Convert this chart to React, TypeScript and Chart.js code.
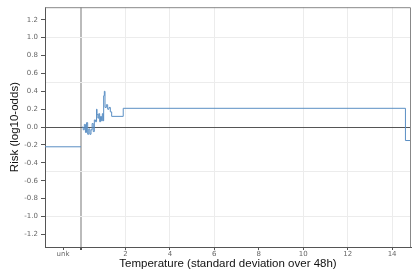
import React, { useEffect, useRef } from "react";
import { Chart, registerables } from "chart.js";

Chart.register(...registerables);

// Bin start edges (temperature, std-dev over 48h) and the risk held from each edge
const tempEdges = [
  0.05, 0.1, 0.15, 0.2, 0.25, 0.3, 0.35, 0.4, 0.45, 0.5, 0.55, 0.6, 0.65, 0.7,
  0.72, 0.76, 0.8, 0.84, 0.88, 0.92, 0.96, 1.0, 1.02, 1.05, 1.08, 1.14, 1.2,
  1.26, 1.32, 1.38, 1.9, 14.6, 14.85,
];
const riskValues = [
  0.0, -0.03, 0.03, -0.06, 0.05, -0.08, -0.02, -0.08, -0.03, 0.04, -0.05, 0.08,
  0.06, 0.2, 0.14, 0.1, 0.15, 0.06, 0.12, 0.07, 0.15, 0.07, 0.35, 0.4, 0.22,
  0.25, 0.2, 0.22, 0.17, 0.12, 0.21, -0.15, -0.15,
];
// Risk for the "unknown" bin
const unkRisk = -0.22;

const xMin = -1.62;
const xMax = 14.85;
const unkTickPos = -0.81;
const xTickValues = [unkTickPos, 0, 2, 4, 6, 8, 10, 12, 14];
const yTickValues = [
  -1.2, -1.0, -0.8, -0.6, -0.5, -0.4, -0.2, 0.0, 0.2, 0.4, 0.5, 0.6, 0.8, 1.0, 1.2,
];
const yMin = -1.34;
const yMax = 1.34;

const LINE = "#5b8fc4";

export default function App() {
  const ref = useRef<HTMLCanvasElement | null>(null);

  useEffect(() => {
    if (!ref.current) return;
    const mainData = tempEdges.map((x, i) => ({ x, y: riskValues[i] }));
    const unkData = [
      { x: xMin, y: unkRisk },
      { x: 0, y: unkRisk },
    ];

    const borderPlugin = {
      id: "frame",
      afterDraw(chart: any) {
        const { ctx, chartArea: a } = chart;
        ctx.save();
        ctx.strokeStyle = "#888";
        ctx.lineWidth = 1;
        ctx.beginPath();
        ctx.moveTo(a.left, a.top + 0.5);
        ctx.lineTo(a.right - 0.5, a.top + 0.5);
        ctx.lineTo(a.right - 0.5, a.bottom);
        ctx.stroke();
        ctx.restore();
      },
    };

    const chart = new Chart(ref.current, {
      type: "line",
      data: {
        datasets: [
          {
            data: unkData,
            borderColor: LINE,
            borderWidth: 1,
            pointRadius: 0,
            fill: false,
          },
          {
            data: mainData,
            borderColor: LINE,
            borderWidth: 1,
            pointRadius: 0,
            stepped: "before",
            fill: false,
          },
        ],
      },
      options: {
        animation: false,
        responsive: false,
        events: [],
        layout: { padding: { top: 3, right: 1, left: 0, bottom: 0 } },
        plugins: { legend: { display: false }, tooltip: { enabled: false } },
        scales: {
          x: {
            type: "linear",
            min: xMin,
            max: xMax,
            afterBuildTicks(scale: any) {
              scale.ticks = xTickValues.map((v) => ({ value: v }));
            },
            afterFit(scale: any) {
              scale.height = 30;
            },
            border: { color: "#555", width: 1 },
            grid: {
              color: (c: any) => {
                const v = c.tick ? c.tick.value : null;
                if (v === 0) return "#bbb";
                if (v === unkTickPos || v === 8) return "rgba(0,0,0,0)";
                return "#ececec";
              },
              lineWidth: (c: any) => (c.tick && c.tick.value === 0 ? 2 : 1),
              tickColor: "#555",
              tickLength: 3,
            },
            ticks: {
              autoSkip: false,
              maxRotation: 0,
              padding: 0,
              color: "#666",
              font: { family: "DejaVu Sans", size: 7 },
              callback: (v: any) => {
                const n = Number(v);
                if (n === unkTickPos) return "unk";
                if (n === 0) return "";
                return String(n);
              },
            },
            title: {
              display: true,
              text: "Temperature (standard deviation over 48h)",
              color: "#111",
              font: { family: "Liberation Sans", size: 11.5 },
              padding: { top: 0, bottom: 6 },
            },
          },
          y: {
            type: "linear",
            min: yMin,
            max: yMax,
            afterBuildTicks(scale: any) {
              scale.ticks = yTickValues.map((v) => ({ value: v }));
            },
            afterFit(scale: any) {
              scale.width = 45;
            },
            border: { color: "#555", width: 1 },
            grid: {
              color: (c: any) => {
                const v = c.tick ? Math.round(c.tick.value * 10) / 10 : null;
                if (v === 0) return "#555";
                if (v === 0.5 || v === -0.5 || v === 1 || v === -1) return "#ececec";
                return "rgba(0,0,0,0)";
              },
              tickColor: (c: any) => {
                const v = c.tick ? Math.abs(c.tick.value) : 0;
                return Math.abs(v - 0.5) < 1e-6 ? "rgba(0,0,0,0)" : "#555";
              },
              tickLength: 4,
            },
            ticks: {
              autoSkip: false,
              padding: 3,
              color: "#666",
              font: { family: "DejaVu Sans", size: 7 },
              callback: (v: any) => {
                const n = Number(v);
                if (Math.abs(Math.abs(n) - 0.5) < 1e-6) return "";
                const s = (Math.abs(n) < 1e-9 ? 0 : n).toFixed(1);
                return s;
              },
            },
            title: {
              display: true,
              text: "Risk (log10-odds)",
              color: "#111",
              font: { family: "Liberation Sans", size: 11.5 },
              padding: { top: 8, bottom: 0 },
            },
          },
        },
      },
      plugins: [borderPlugin],
    });
    return () => chart.destroy();
  }, []);

  return (
    <div style={{ position: "fixed", left: 0, top: 0, width: 412, height: 277, background: "#fff" }}>
      <canvas ref={ref} width={412} height={277} style={{ display: "block" }} />
    </div>
  );
}
